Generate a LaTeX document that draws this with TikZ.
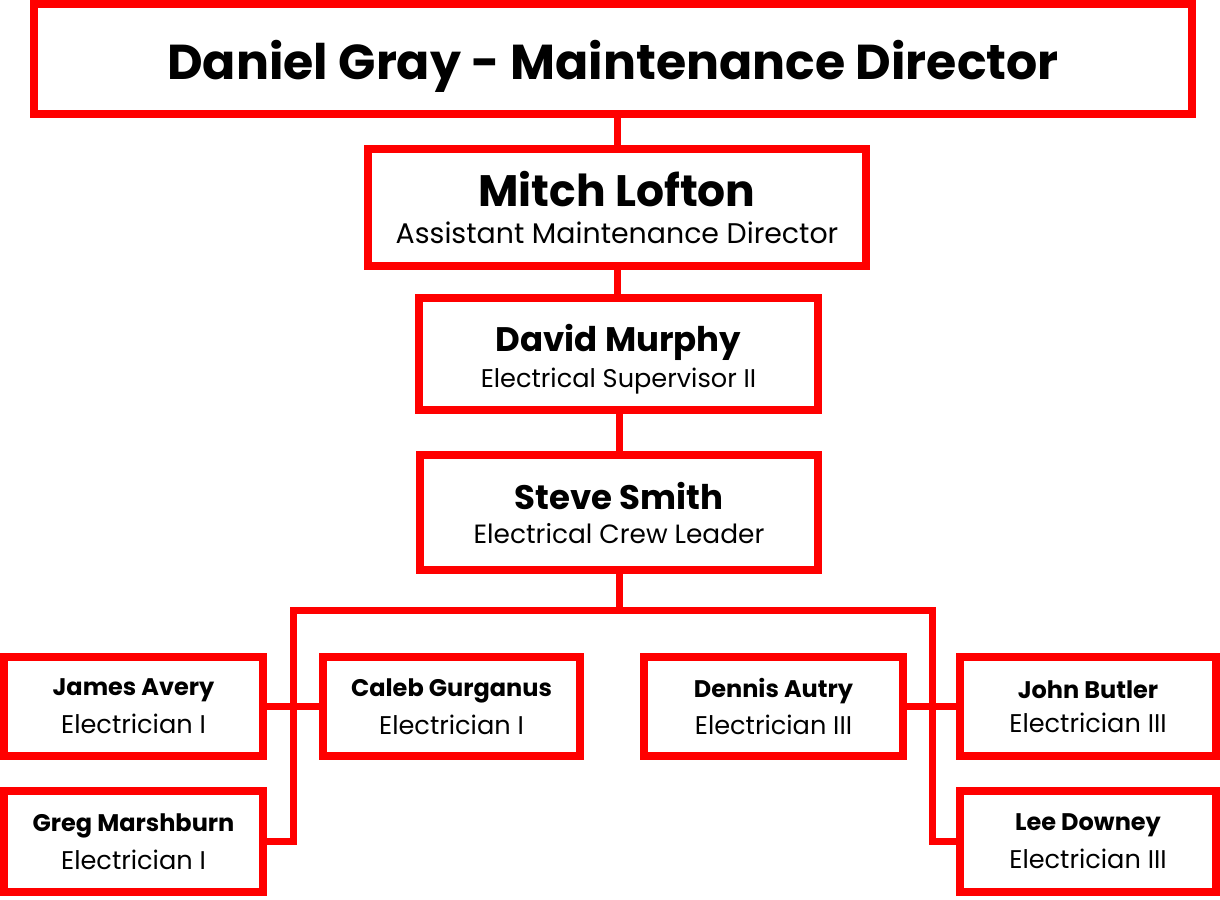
\documentclass[tikz,border=0pt]{standalone}
\usepackage{fontspec}
\setmainfont{Poppins}
\usepackage{tikz}

\begin{document}
\begin{tikzpicture}[x=0.5pt, y=-0.5pt,
    box/.style={draw=red, line width=4pt, fill=white, inner sep=0pt, align=center, text=black},
    link/.style={draw=red, line width=3.5pt}]
\useasboundingbox (0,0) rectangle (1220,899);
%
\node [box, minimum width=579pt, minimum height=55pt, text height=23pt, text depth=2pt, font=\bfseries\fontsize{24.5}{30}\selectfont] (dir) at (613,59) {Daniel Gray - Maintenance Director};
\node [box, minimum width=249pt, minimum height=58.5pt] (mitch) at (617,207.5) {{\bfseries\fontsize{22}{26}\selectfont Mitch Lofton}\\[6.5pt]{\fontsize{14.2}{16}\selectfont Assistant Maintenance Director}};
\node [box, minimum width=199.5pt, minimum height=56pt] (david) at (618.5,354) {\rule{0pt}{19pt}{\bfseries\fontsize{17}{20}\selectfont David Murphy}\\[3pt]{\fontsize{12.8}{15}\selectfont Electrical Supervisor II}};
\node [box, minimum width=199pt, minimum height=57.5pt] (steve) at (619,512.5) {{\bfseries\fontsize{17}{20}\selectfont Steve Smith}\\[5pt]{\fontsize{13.2}{15}\selectfont Electrical Crew Leader}};
%
\node [box, minimum width=129.5pt, minimum height=49.5pt] (james) at (133.5,706.5) {{\bfseries\fontsize{12}{15}\selectfont James Avery}\\[5pt]{\fontsize{12.8}{15}\selectfont Electrician I}};
\node [box, minimum width=128.5pt, minimum height=49.5pt] (caleb) at (451.5,706.5) {{\bfseries\fontsize{12}{15}\selectfont Caleb Gurganus}\\[5pt]{\fontsize{12.8}{15}\selectfont Electrician I}};
\node [box, minimum width=129.5pt, minimum height=50.5pt] (greg) at (133.5,841.5) {{\bfseries\fontsize{12}{15}\selectfont Greg Marshburn}\\[5pt]{\fontsize{12.8}{15}\selectfont Electrician I}};
\node [box, minimum width=129.5pt, minimum height=49.5pt] (dennis) at (773.5,706.5) {{\bfseries\fontsize{12}{15}\selectfont Dennis Autry}\\[5pt]{\fontsize{12.8}{15}\selectfont Electrician III}};
\node [box, minimum width=128pt, minimum height=49.5pt] (john) at (1088,706.5) {{\bfseries\fontsize{12}{15}\selectfont John Butler}\\[5pt]{\fontsize{12.8}{15}\selectfont Electrician III}};
\node [box, minimum width=128pt, minimum height=50.5pt] (lee) at (1088,841.5) {{\bfseries\fontsize{12}{15}\selectfont Lee Downey}\\[5pt]{\fontsize{12.8}{15}\selectfont Electrician III}};
%
\coordinate (busL) at (293,610);
\coordinate (busR) at (932,610);
%
\draw [link] (mitch.north) -- (mitch.north |- dir.south);
\draw [link] (mitch.south) -- (mitch.south |- david.north);
\draw [link] (steve.north) -- (steve.north |- david.south);
\draw [link] (steve.south) -- (steve.south |- busL);
\draw [link, line cap=rect] (busL) -- (busR);
\draw [link] (busL) -- (busL |- greg.east) -- (greg.east);
\draw [link] (busR) -- (busR |- lee.west) -- (lee.west);
\draw [link] (james.east) -- (caleb.west);
\draw [link] (dennis.east) -- (john.west);
%%%%%%%%%%%%%%%%%%%%%%%%%%%%%%%
\end{tikzpicture}
\end{document}
